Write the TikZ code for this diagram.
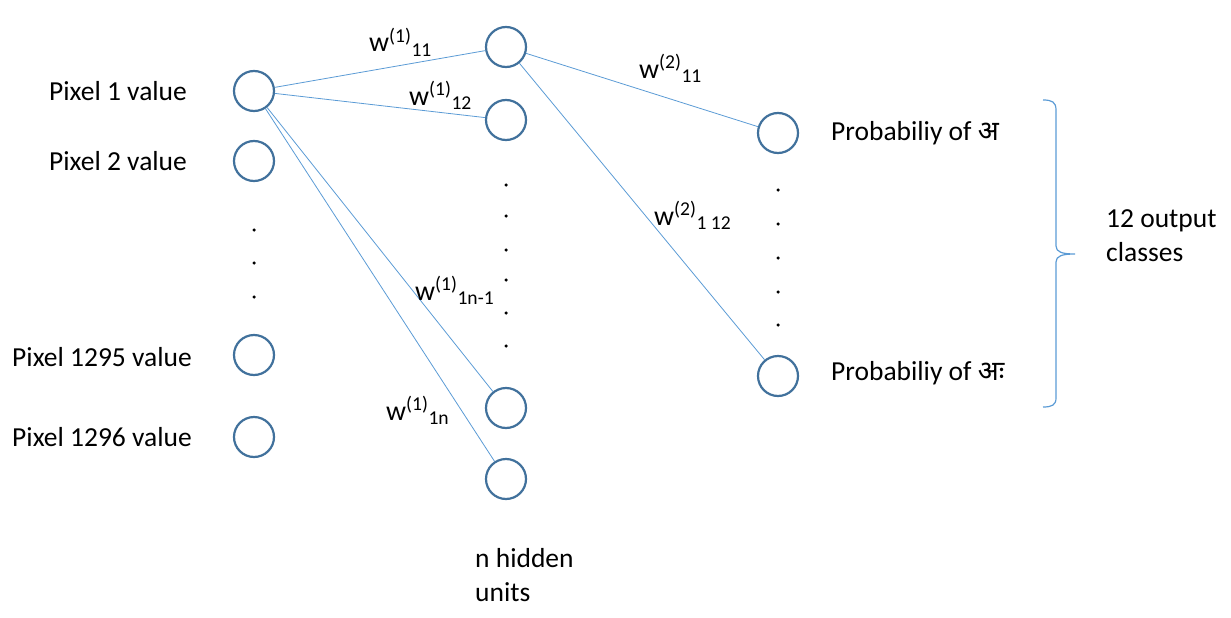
\documentclass[tikz,border=0pt]{standalone}
\usepackage{fontspec}
\setmainfont{Carlito}
\newfontfamily\devfont[Script=Devanagari]{Noto Sans}
\definecolor{unitblue}{RGB}{65,113,156}
\definecolor{linkblue}{RGB}{91,155,213}
\tikzset{
  unit/.style={circle, draw=unitblue, line width=2.2pt, minimum size=40pt, inner sep=0pt},
  link/.style={draw=linkblue, line width=0.8pt},
  lbl/.style={font=\fontsize{27.5}{34}\selectfont, inner sep=0pt},
  wlbl/.style={font=\fontsize{28}{32}\selectfont, inner sep=0pt, anchor=base west},
  dot/.style={circle, fill=black, minimum size=3.5pt, inner sep=0pt}
}
\newcommand{\wt}[2]{w\textsuperscript{(#1)}\textsubscript{#2}}
\begin{document}
\begin{tikzpicture}[x=1pt, y=-1pt]
  \useasboundingbox (0,0) rectangle (1231,618);
  % input units
  \node[unit] (i1) at (254,91) {};
  \node[unit] (i2) at (254,161) {};
  \node[unit] (i3) at (254,355) {};
  \node[unit] (i4) at (254,437) {};
  % hidden units
  \node[unit] (h1) at (506,47) {};
  \node[unit] (h2) at (506,120) {};
  \node[unit] (h3) at (506,408) {};
  \node[unit] (h4) at (506,479) {};
  % output units
  \node[unit] (o1) at (778,133) {};
  \node[unit] (o2) at (778,376) {};
  % dots
  \foreach \y [count=\k] in {230,263,297}
    \node[dot] (di\k) at (254,\y) {};
  \foreach \y [count=\k] in {185,216,250,280,313,346}
    \node[dot] (dh\k) at (506,\y) {};
  \foreach \y [count=\k] in {190,224,258,292,325}
    \node[dot] (do\k) at (778,\y) {};
  % weights
  \foreach \h in {h1,h2,h3,h4}
    \draw[link] (i1) -- (\h);
  \draw[link] (h1) -- (o1);
  \draw[link] (h1) -- (o2);
  % input labels
  \node[lbl] (p1) at (118,91) {Pixel 1 value};
  \node[lbl] (p2) at (118,161) {Pixel 2 value};
  \node[lbl] (p3) at (102,357) {Pixel 1295 value};
  \node[lbl] (p4) at (102,437) {Pixel 1296 value};
  % weight labels
  \node[wlbl] (w11) at (369,52) {\wt{1}{11}};
  \node[wlbl] (w12) at (409,105) {\wt{1}{12}};
  \node[wlbl] (w1a) at (415,300) {\wt{1}{1n-1}};
  \node[wlbl] (w1b) at (386,420) {\wt{1}{1n}};
  \node[wlbl] (v11) at (639,78) {\wt{2}{11}};
  \node[wlbl] (v12) at (654,225) {\wt{2}{1 12}};
  % output labels
  \node[lbl, anchor=west] (q1) at (831,133) {Probabiliy of {\devfont अ}};
  \node[lbl, anchor=west] (q2) at (831,373) {Probabiliy of {\devfont अः}};
  \node[lbl, anchor=north west, align=left] (nh) at (475,548) {n hidden\\units};
  \node[lbl, anchor=west, align=left] (cls) at (1106,236) {12 output\\classes};
  % brace
  \coordinate (bt) at (1043,100);
  \coordinate (bm) at (1075,254);
  \coordinate (bb) at (1043,407);
  \draw[link, line width=1.2pt] (bt) .. controls (1052,100) and (1056,102) .. (1056,110)
    -- (1056,246) .. controls (1056,252) and (1062,254) .. (bm)
    .. controls (1062,254) and (1056,256) .. (1056,262)
    -- (1056,398) .. controls (1056,405) and (1052,407) .. (bb);
\end{tikzpicture}
\end{document}
